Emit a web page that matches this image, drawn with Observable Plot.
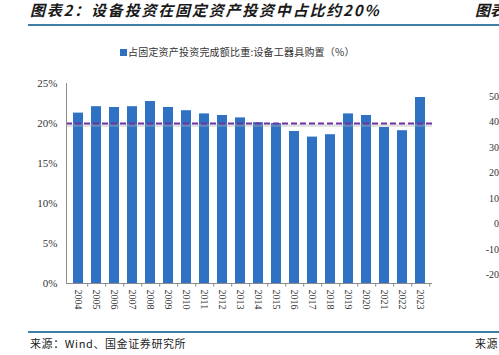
<!DOCTYPE html>
<html>
<head>
<meta charset="utf-8">
<script src="https://cdn.jsdelivr.net/npm/d3@7"></script>
<script src="https://cdn.jsdelivr.net/npm/@observablehq/plot@0.6"></script>
<style>
  html, body { margin: 0; padding: 0; background: #fff; }
  #wrap { position: relative; width: 499px; height: 355px; overflow: hidden; background: #fff; }
  .abs { position: absolute; white-space: nowrap; }
  .cjk { font-family: "Noto Sans CJK SC", sans-serif; }
  #chart { position: absolute; left: 0; top: 0; }
</style>
</head>
<body>
<div id="wrap">
  <div id="chart"></div>
  <div class="abs cjk" id="title" style="left:30px;top:2px;font-size:15px;line-height:16px;font-weight:bold;font-style:italic;letter-spacing:1.8px;color:#1a1a1a;"></div>
  <div class="abs cjk" id="title2" style="left:475px;top:2px;font-size:15px;line-height:16px;font-weight:bold;font-style:italic;color:#1a1a1a;"></div>
  <div class="abs" style="left:28px;top:24px;width:471px;height:2px;background:#3F7EA6;"></div>
  <div class="abs" style="left:120px;top:49px;width:7px;height:7px;background:#2F72C4;"></div>
  <div class="abs cjk" id="legend" style="left:128px;top:45px;font-size:10px;line-height:14px;letter-spacing:0.2px;color:#333;"></div>
  <div class="abs" style="left:28px;top:331px;width:471px;height:1.5px;background:#3F7EA6;"></div>
  <div class="abs cjk" id="source" style="left:30px;top:336px;font-size:11px;line-height:14px;letter-spacing:0.6px;color:#222;"></div>
  <div class="abs cjk" id="source2" style="left:475px;top:336px;font-size:11px;line-height:14px;letter-spacing:0.6px;color:#222;"></div>
  <div id="rightTicks"></div>
</div>
<script>
// ---- data ----
const titleText = "图表2：设备投资在固定资产投资中占比约20%";
const titleNext = "图表";
const legendText = "占固定资产投资完成额比重:设备工器具购置（%）";
const sourceText = "来源：Wind、国金证券研究所";
const sourceNext = "来源";
const years = ["2004","2005","2006","2007","2008","2009","2010","2011","2012","2013",
               "2014","2015","2016","2017","2018","2019","2020","2021","2022","2023"];
const shares = [21.3, 22.1, 22.0, 22.1, 22.75, 22.0, 21.6, 21.2, 21.0, 20.7,
                20.1, 20.0, 19.0, 18.3, 18.6, 21.2, 21.0, 19.5, 19.1, 23.25];
const yTicks = [0, 5, 10, 15, 20, 25];
const refLine = [20];
const rightTickLabels = [50, 40, 30, 20, 10, 0, -10, -20];

// ---- text ----
document.getElementById("title").textContent = titleText;
document.getElementById("title2").textContent = titleNext;
document.getElementById("legend").textContent = legendText;
document.getElementById("source").textContent = sourceText;
document.getElementById("source2").textContent = sourceNext;

// ---- chart ----
const data = years.map((y, i) => ({year: y, value: shares[i]}));
const W = 499, H = 355, mL = 66, mR = 67, mT = 83, mB = 72;
const padIn = 0.456, padOut = 0.174;
const step = (W - mL - mR) / (years.length - padIn + 2 * padOut);
const boundaries = years.map((y) => ({year: y}));

const barColor = "#2F72C4";
const axisColor = "#8c8c8c";

const chart = Plot.plot({
  width: W,
  height: H,
  marginLeft: mL,
  marginRight: mR,
  marginTop: mT,
  marginBottom: mB,
  style: {fontFamily: "'Liberation Serif', serif", color: "#333", background: "transparent"},
  x: {type: "band", domain: years, paddingInner: padIn, paddingOuter: padOut, align: 0.5, label: null},
  y: {domain: [0, 25], ticks: yTicks, label: null},
  marks: [
    Plot.barY(data, {x: "year", y: "value", fill: barColor}),
    // shadow of the reference line
    Plot.ruleY(refLine, {stroke: "#b0b0b0", strokeWidth: 3, strokeOpacity: 0.35, dy: 2}),
    Plot.ruleY(refLine, {stroke: "#7030A0", strokeWidth: 1.8, strokeDasharray: "6,3"}),
    // axes lines
    Plot.ruleY([0], {stroke: axisColor, strokeWidth: 1}),
    Plot.frame({anchor: "left", stroke: axisColor, strokeWidth: 1}),
    // category boundary ticks
    Plot.ruleX(boundaries, {x: "year", y1: 0, y2: -0.45, dx: step / 2, stroke: axisColor}),
    Plot.axisY({ticks: yTicks, tickFormat: d => d + "%", tickSize: 0, tickPadding: 9, fontSize: 11, fill: "#333", fontFamily: "'Liberation Serif', serif", label: null}),
    Plot.axisX({tickSize: 0, tickPadding: 6, tickRotate: 90, fontSize: 10, fill: "#333", fontFamily: "'Liberation Serif', serif", label: null})
  ]
});
document.getElementById("chart").appendChild(chart);

// ---- cut-off neighbouring chart's axis labels ----
const rScale = d3.scaleLinear().domain([-20, 50]).range([275, 97]);
const rt = document.getElementById("rightTicks");
rightTickLabels.forEach(v => {
  const d = document.createElement("div");
  d.className = "abs";
  d.style.cssText = `right:0px;top:${rScale(v) - 7}px;font-family:'Liberation Serif',serif;font-size:10px;line-height:14px;color:#333;`;
  d.textContent = v;
  rt.appendChild(d);
});
</script>
</body>
</html>
